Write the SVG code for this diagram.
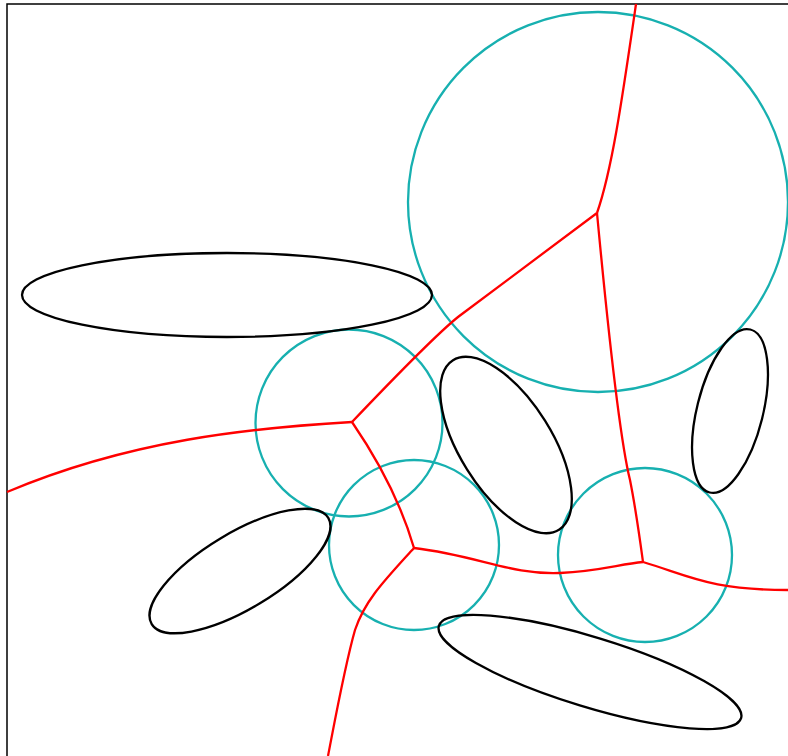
<svg xmlns="http://www.w3.org/2000/svg" width="788" height="756" viewBox="0 0 788 756">
<style>
.c{fill:none;stroke:#17b0b0;stroke-width:2.3}
.e{fill:none;stroke:#000;stroke-width:2.3}
.r{fill:none;stroke:#ff0000;stroke-width:2.3}
</style>
<rect x="0" y="0" width="788" height="756" fill="#fff"/>
<rect x="7" y="4" width="800" height="770" fill="none" stroke="#000" stroke-width="1.5"/>
<g id="circles">
<circle class="c" cx="598" cy="202" r="190"/>
<circle class="c" cx="349" cy="423" r="93.5"/>
<circle class="c" cx="414" cy="545" r="85"/>
<circle class="c" cx="645" cy="555" r="87"/>
</g>
<g id="ellipses">
<ellipse class="e" cx="227" cy="295" rx="205" ry="42"/>
<ellipse class="e" cx="506" cy="445" rx="100" ry="46" transform="rotate(58 506 445)"/>
<ellipse class="e" cx="730" cy="411" rx="84" ry="33" transform="rotate(-76 730 411)"/>
<ellipse class="e" cx="240" cy="571" rx="103" ry="38" transform="rotate(-31 240 571)"/>
<ellipse class="e" cx="590" cy="672" rx="158" ry="35" transform="rotate(17 590 672)"/>
</g>
<g id="connectors">
<path class="r" d="M597,213 C612,170 622,100 636,4"/>
<path class="r" d="M597,213 L458,317 Q432,338 352,422"/>
<path class="r" d="M597,213 C608,330 620,440 630,480 C636,510 640,540 643,562"/>
<path class="r" d="M352,422 C250,428 130,440 7,492"/>
<path class="r" d="M352,422 C378,460 400,500 414,548"/>
<path class="r" d="M414,548 C385,580 365,600 355,630 C345,665 335,720 328,756"/>
<path class="r" d="M414,548 C480,556 510,575 560,573 C600,571 620,564 643,562"/>
<path class="r" d="M643,562 C690,576 710,590 788,590"/>
</g>
</svg>
